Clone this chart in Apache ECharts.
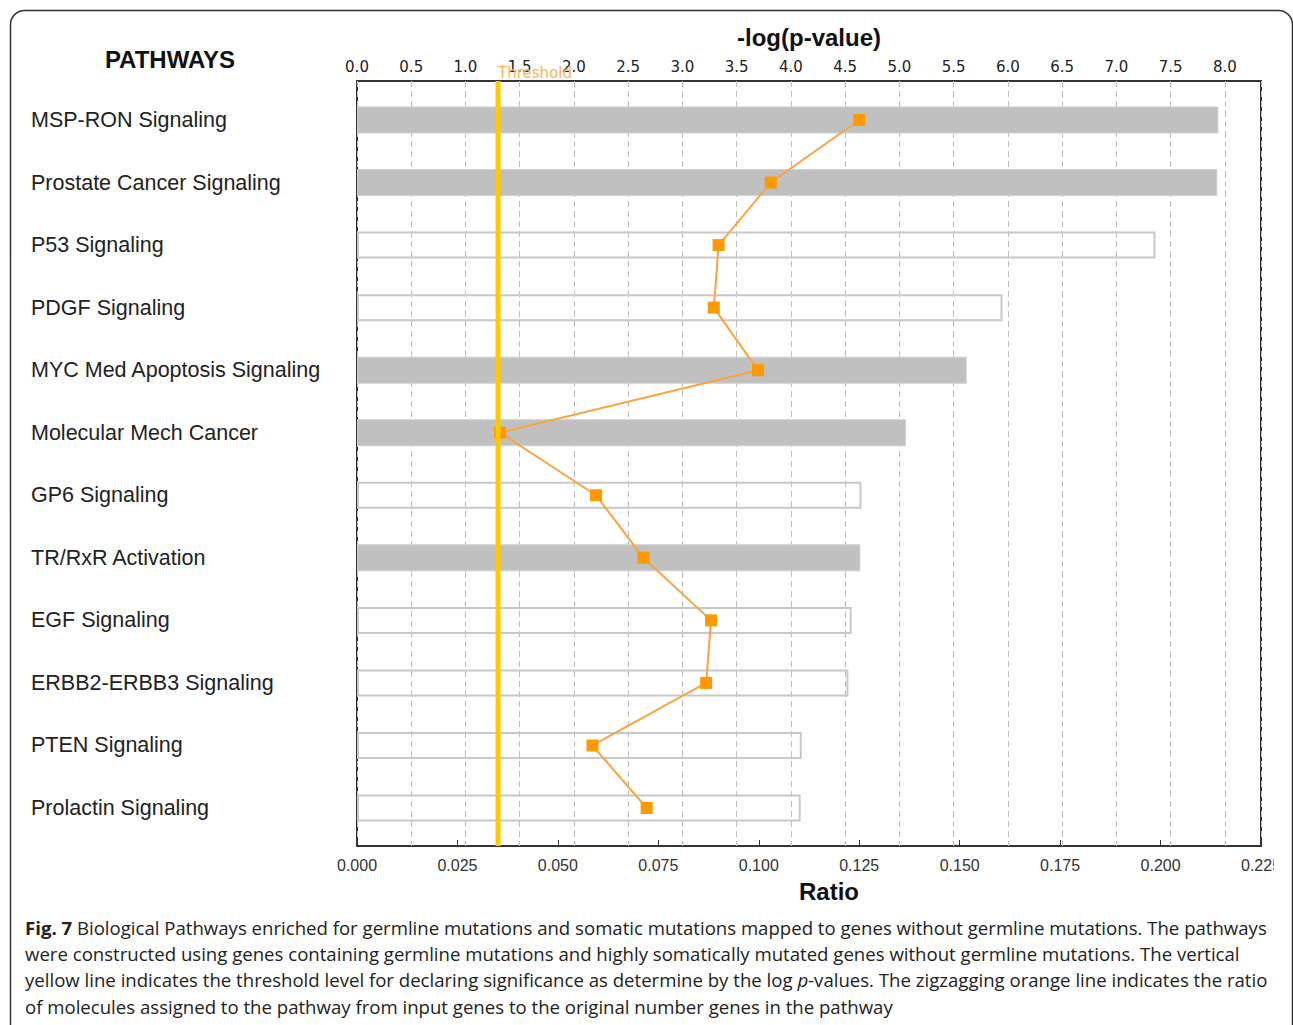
<!DOCTYPE html>
<html>
<head>
<meta charset="utf-8">
<script src="https://cdn.jsdelivr.net/npm/echarts@6/dist/echarts.min.js"></script>
<style>
  html, body { margin: 0; padding: 0; background: #fff; }
  #chart { width: 1293px; height: 1025px; }
</style>
</head>
<body>
<div id="chart"></div>
<script>
// Pathway enrichment: -log(p-value) bars with the molecule ratio drawn over them
const pathways = [
  'MSP-RON Signaling',
  'Prostate Cancer Signaling',
  'P53 Signaling',
  'PDGF Signaling',
  'MYC Med Apoptosis Signaling',
  'Molecular Mech Cancer',
  'GP6 Signaling',
  'TR/RxR Activation',
  'EGF Signaling',
  'ERBB2-ERBB3 Signaling',
  'PTEN Signaling',
  'Prolactin Signaling'
];
const negLogP = [7.94, 7.93, 7.36, 5.95, 5.62, 5.06, 4.65, 4.64, 4.56, 4.53, 4.10, 4.09];
const ratio = [0.125, 0.103, 0.090, 0.0888, 0.0998, 0.0356, 0.0595, 0.0713, 0.0881, 0.0869, 0.0586, 0.0721];
// Pathways drawn as solid bars; the rest are drawn as outlines
const shadedPathways = [
  'MSP-RON Signaling',
  'Prostate Cancer Signaling',
  'MYC Med Apoptosis Signaling',
  'Molecular Mech Cancer',
  'TR/RxR Activation'
];
const THRESHOLD = 1.3;
const P_MAX = 8.333;
const P_INTERVAL = 0.5;
const RATIO_MAX = 0.225;
const RATIO_INTERVAL = 0.025;

const captionLines = [
  '{b|Fig. 7} Biological Pathways enriched for germline mutations and somatic mutations mapped to genes without germline mutations. The pathways',
  'were constructed using genes containing germline mutations and highly somatically mutated genes without germline mutations. The vertical',
  'yellow line indicates the threshold level for declaring significance as determine by the log {i|p}-values. The zigzagging orange line indicates the ratio',
  'of molecules assigned to the pathway from input genes to the original number genes in the pathway'
];

const shadedData = pathways.map((p, i) => shadedPathways.includes(p) ? negLogP[i] : null);
const outlineData = pathways.map((p, i) => shadedPathways.includes(p) ? null : negLogP[i]);

const SANS = '"Liberation Sans", Arial, sans-serif';
const CAPTION_FONT = '"Open Sans", sans-serif';
const CAPTION_SIZE = 18.6;
const PLOT = { left: 357, top: 81, width: 904, height: 765 };
// bar rows sit a little inside the frame at top and bottom
const ROWS = { top: 88.7, height: 750.6 };

const chart = echarts.init(document.getElementById('chart'), null, { renderer: 'svg' });

chart.setOption({
  animation: false,
  backgroundColor: '#fff',
  grid: [
    {
      left: PLOT.left, top: PLOT.top, width: PLOT.width, height: PLOT.height,
      show: true, borderColor: '#333', borderWidth: 2, backgroundColor: 'transparent'
    },
    {
      left: PLOT.left, top: ROWS.top, width: PLOT.width, height: ROWS.height,
      show: false
    }
  ],
  xAxis: [
    {
      // -log(p-value), top
      gridIndex: 0, type: 'value', position: 'top',
      min: 0, max: P_MAX, interval: P_INTERVAL,
      name: '-log(p-value)', nameLocation: 'middle', nameGap: 32,
      nameTextStyle: { fontFamily: SANS, fontSize: 24, fontWeight: 'bold', color: '#111' },
      axisLine: { show: false }, axisTick: { show: false },
      axisLabel: {
        showMaxLabel: false, margin: 7, color: '#222',
        fontFamily: '"DejaVu Sans", Verdana, sans-serif', fontSize: 15,
        formatter: v => v.toFixed(1)
      },
      splitLine: { show: true, lineStyle: { color: '#bdbdbd', width: 1, type: [6, 4] } }
    },
    {
      // Ratio, bottom
      gridIndex: 0, type: 'value', position: 'bottom',
      min: 0, max: RATIO_MAX, interval: RATIO_INTERVAL,
      name: 'Ratio', nameLocation: 'middle', nameGap: 33,
      nameTextStyle: { fontFamily: SANS, fontSize: 24, fontWeight: 'bold', color: '#111', padding: [0, 0, 0, 40] },
      axisLine: { show: false },
      axisTick: { show: true, inside: true, length: 6, lineStyle: { color: '#333', width: 1 } },
      axisLabel: {
        margin: 11, color: '#333', fontFamily: SANS, fontSize: 16,
        formatter: v => v.toFixed(3)
      },
      splitLine: { show: false }
    },
    { gridIndex: 1, type: 'value', min: 0, max: P_MAX, show: false },
    { gridIndex: 1, type: 'value', min: 0, max: RATIO_MAX, show: false }
  ],
  yAxis: [
    {
      gridIndex: 1, type: 'category', data: pathways, inverse: true,
      axisLine: { show: false }, axisTick: { show: false }, splitLine: { show: false },
      axisLabel: {
        align: 'left', margin: PLOT.left - 31, color: '#222',
        fontFamily: SANS, fontSize: 21.5
      }
    },
    { gridIndex: 0, type: 'value', min: 0, max: 1, show: false }
  ],
  series: [
    {
      name: 'shaded', type: 'bar', xAxisIndex: 2, yAxisIndex: 0,
      data: shadedData, barWidth: 27, barGap: '-100%',
      itemStyle: { color: '#c0c0c0', borderColor: '#cfcfcf', borderWidth: 1 },
      z: 2
    },
    {
      name: 'outline', type: 'bar', xAxisIndex: 2, yAxisIndex: 0,
      data: outlineData, barWidth: 27, barGap: '-100%',
      itemStyle: { color: 'rgba(0,0,0,0)', borderColor: '#c8c8c8', borderWidth: 2 },
      z: 2
    },
    {
      name: 'Ratio', type: 'line', xAxisIndex: 3, yAxisIndex: 0,
      data: ratio, symbol: 'rect', symbolSize: 12,
      itemStyle: { color: '#ff9900' },
      lineStyle: { color: '#f9a440', width: 2 },
      z: 4
    },
    {
      name: 'Threshold', type: 'line', xAxisIndex: 0, yAxisIndex: 1,
      data: [
        [THRESHOLD, 0],
        {
          value: [THRESHOLD, 1],
          label: {
            show: true, formatter: 'Threshold', position: 'top', distance: 0,
            align: 'left', color: '#fbb25a',
            fontFamily: '"DejaVu Sans", Verdana, sans-serif', fontSize: 15
          }
        }
      ],
      symbol: 'circle', symbolSize: 1, showSymbol: true, clip: false, silent: true,
      itemStyle: { color: 'rgba(0,0,0,0)' },
      lineStyle: { color: '#ffc800', width: 5 },
      z: 6
    }
  ],
  graphic: [
    {
      type: 'rect', z: 0,
      shape: { x: 10.5, y: 10.5, width: 1282, height: 1040, r: 14 },
      style: { fill: 'none', stroke: '#333', lineWidth: 1.5 }
    },
    {
      type: 'text', x: 170, y: 59, z: 10,
      style: {
        text: 'PATHWAYS', align: 'center', verticalAlign: 'middle',
        fontFamily: SANS, fontSize: 24, fontWeight: 'bold', fill: '#111'
      }
    },
    {
      // the figure is trimmed just past the last ratio label
      type: 'rect', z: 100,
      shape: { x: 1274, y: 852, width: 14, height: 26 },
      style: { fill: '#fff' }
    }
  ].concat(captionLines.map((line, i) => ({
    type: 'text', x: 25, y: 927 + i * 26.4, z: 10,
    style: {
      text: line, align: 'left', verticalAlign: 'middle',
      fontFamily: CAPTION_FONT, fontSize: CAPTION_SIZE, fill: '#222',
      rich: {
        b: { fontFamily: CAPTION_FONT, fontSize: CAPTION_SIZE, fontWeight: 'bold', fill: '#222' },
        i: { fontFamily: CAPTION_FONT, fontSize: CAPTION_SIZE, fontStyle: 'italic', fill: '#222' }
      }
    }
  })))
});
</script>
</body>
</html>
